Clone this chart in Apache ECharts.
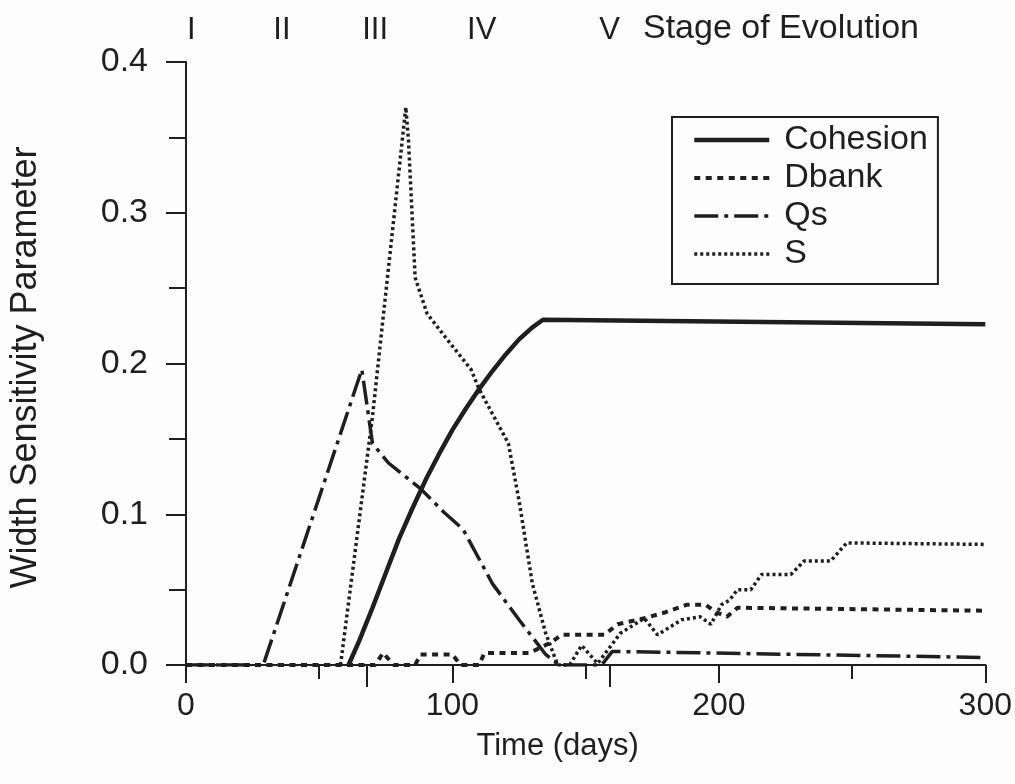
<!DOCTYPE html>
<html>
<head>
<meta charset="utf-8">
<script src="https://cdn.jsdelivr.net/npm/echarts@6/dist/echarts.min.js"></script>
<style>
html,body{margin:0;padding:0;background:#fdfdfd;}
#chart{width:1015px;height:784px;}
</style>
</head>
<body>
<div id="chart"></div>
<script>
// ---- data ----
const seriesNames = ['Cohesion', 'Dbank', 'Qs', 'S'];

const cohesion = [
  [61, 0], [65, 0.016], [70, 0.038], [75, 0.061], [80, 0.084], [85, 0.104],
  [90, 0.123], [95, 0.140], [100, 0.156], [105, 0.170], [110, 0.183],
  [115, 0.195], [120, 0.206], [125, 0.216], [130, 0.224], [134, 0.229],
  [300, 0.226]
];

const dbank = [
  [0, 0], [71, 0], [74, 0.008], [78, 0], [86, 0], [88, 0.007], [100, 0.007],
  [103, 0], [110, 0], [112, 0.008], [129, 0.008], [137, 0.015], [141, 0.02],
  [157, 0.02], [162, 0.027], [172, 0.031], [180, 0.035], [188, 0.04],
  [195, 0.04], [199, 0.035], [203, 0.032], [207, 0.038], [300, 0.036]
];

const qs = [
  [0, 0], [29, 0], [66, 0.196], [70, 0.147], [76, 0.134], [88, 0.117],
  [97, 0.101], [104, 0.090], [115, 0.054], [125, 0.030], [135, 0.007],
  [140, 0], [156, 0], [160, 0.009], [300, 0.005]
];

const sParam = [
  [58, 0], [70, 0.165], [82.5, 0.370], [83.5, 0.348], [86, 0.257],
  [90.5, 0.233], [98, 0.216], [107, 0.196], [110, 0.183], [121, 0.147],
  [125, 0.109], [130, 0.054], [135, 0.021], [139.5, 0], [144, 0],
  [148.5, 0.013], [154.5, 0.001], [163, 0.021], [172, 0.031], [177, 0.020],
  [186, 0.030], [193, 0.032], [197, 0.027], [201, 0.040], [204, 0.043],
  [207, 0.050], [212, 0.050], [216, 0.060], [227, 0.060], [232, 0.069],
  [242, 0.069], [248, 0.081], [300, 0.080]
];

const xTickLabels = [0, 100, 200, 300];
const yTickLabels = [0.0, 0.1, 0.2, 0.3, 0.4];
const stageNames = ['I', 'II', 'III', 'IV', 'V'];
const stagePositions = [2, 36, 71, 111, 159];
const stageTicks = [68, 159];
const stageTitle = 'Stage of Evolution';

// ---- chart ----
const ink = '#1f1f1f';
const font = 'Liberation Sans';
const chart = echarts.init(document.getElementById('chart'), null, {renderer: 'canvas'});

const styles = {
  Cohesion: {width: 4.5, type: 'solid'},
  Dbank: {width: 4, type: [6, 5.5]},
  Qs: {width: 3.5, type: [24, 6, 4, 6]},
  S: {width: 3.5, type: [3, 3]}
};

const option = {
  backgroundColor: '#fdfdfd',
  animation: false,
  grid: {left: 184, right: 28, top: 62, bottom: 119, containLabel: false},
  legend: {
    orient: 'vertical',
    left: 672,
    top: 117,
    data: seriesNames.map(n => ({name: n, lineStyle: {width: styles[n].width, type: styles[n].type, color: ink}})),
    itemWidth: 75,
    itemHeight: 12,
    itemGap: 2,
    padding: [5, 10, 12, 20],
    borderColor: ink,
    borderWidth: 2,
    backgroundColor: '#fdfdfd',
    itemStyle: {opacity: 0},
    textStyle: {fontFamily: font, fontSize: 34, color: ink, lineHeight: 36, padding: [0, 0, 0, 10]}
  },
  xAxis: [
    {
      type: 'value', position: 'bottom', min: 0, max: 300, interval: 100,
      name: 'Time (days)', nameLocation: 'middle', nameGap: 66,
      nameTextStyle: {fontFamily: font, fontSize: 31, color: ink, padding: [0, 56, 0, 0]},
      axisLine: {show: true, onZero: false, lineStyle: {color: ink, width: 2}},
      axisTick: {show: true, inside: false, length: 18, lineStyle: {color: ink, width: 2}},
      minorTick: {show: true, splitNumber: 2, length: 14, lineStyle: {color: ink, width: 2}},
      axisLabel: {
        fontFamily: font, fontSize: 32, color: ink, margin: 25,
        customValues: xTickLabels,
        formatter: v => String(v)
      },
      splitLine: {show: false}
    },
    {
      type: 'value', position: 'top', min: 0, max: 300,
      axisLine: {show: true, lineStyle: {color: ink, width: 2}},
      axisTick: {show: true, inside: true, length: 22, customValues: stageTicks, lineStyle: {color: ink, width: 2}},
      axisLabel: {
        show: true, fontFamily: font, fontSize: 31, color: ink, margin: 16,
        customValues: stagePositions,
        formatter: v => stageNames[stagePositions.indexOf(v)] || ''
      },
      splitLine: {show: false}
    }
  ],
  yAxis: [
    {
      type: 'value', position: 'left', min: 0, max: 0.4, interval: 0.1,
      name: 'Width Sensitivity Parameter', nameLocation: 'middle', nameGap: 142,
      nameTextStyle: {fontFamily: font, fontSize: 36, color: ink, padding: [0, 8, 0, 0]},
      axisLine: {show: true, lineStyle: {color: ink, width: 2}},
      axisTick: {show: true, inside: false, length: 20, lineStyle: {color: ink, width: 2}},
      minorTick: {show: true, splitNumber: 2, length: 17, lineStyle: {color: ink, width: 2}},
      axisLabel: {
        fontFamily: font, fontSize: 34, color: ink, margin: 38,
        customValues: yTickLabels,
        formatter: v => v.toFixed(1)
      },
      splitLine: {show: false}
    },
    {
      type: 'value', position: 'right', min: 0, max: 0.4,
      axisLine: {show: true, lineStyle: {color: ink, width: 2}},
      axisTick: {show: false}, axisLabel: {show: false}, splitLine: {show: false}
    }
  ],
  graphic: [
    {
      type: 'text', left: 643, top: 12,
      style: {text: stageTitle, font: '34px "Liberation Sans"', fill: ink}
    }
  ],
  series: [
    {
      name: 'Cohesion', type: 'line', data: cohesion, symbol: 'none', z: 5,
      lineStyle: {color: ink, width: styles.Cohesion.width, type: styles.Cohesion.type}, itemStyle: {color: ink}
    },
    {
      name: 'Dbank', type: 'line', data: dbank, symbol: 'none', z: 4,
      lineStyle: {color: ink, width: styles.Dbank.width, type: styles.Dbank.type, cap: 'butt'}, itemStyle: {color: ink}
    },
    {
      name: 'Qs', type: 'line', data: qs, symbol: 'none', z: 4,
      lineStyle: {color: ink, width: styles.Qs.width, type: styles.Qs.type, cap: 'butt'}, itemStyle: {color: ink}
    },
    {
      name: 'S', type: 'line', data: sParam, symbol: 'none', z: 3,
      lineStyle: {color: ink, width: styles.S.width, type: styles.S.type, cap: 'butt'}, itemStyle: {color: ink}
    }
  ]
};
chart.setOption(option);
</script>
</body>
</html>
